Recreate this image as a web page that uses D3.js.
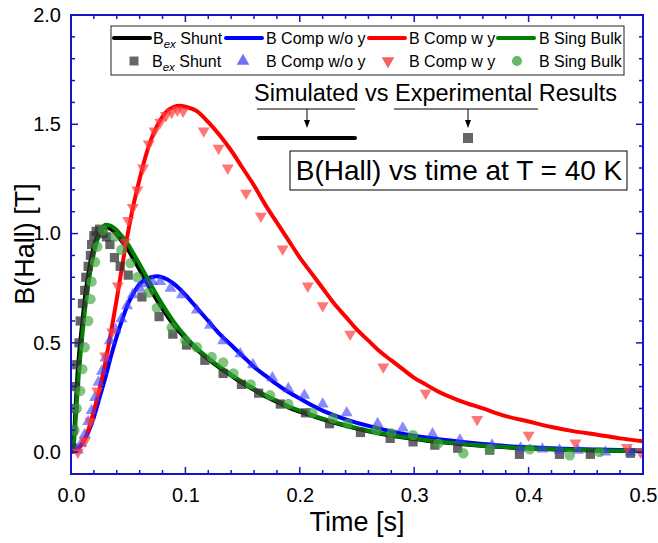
<!DOCTYPE html>
<html><head><meta charset="utf-8">
<script src="https://cdn.jsdelivr.net/npm/d3@7"></script>
<style>body{margin:0;background:#fff}text{font-family:"Liberation Sans",Arial,sans-serif}</style>
</head><body><svg id="c" width="658" height="543"></svg>
<script>
// ---- data: [time (s), B (T)] ----
const shuntSim = [[0,0],[0.002,0.03],[0.004,0.2],[0.006,0.38],[0.008,0.5],[0.01,0.6],[0.012,0.7],[0.015,0.81],[0.018,0.9],[0.021,0.96],[0.024,1.0],[0.027,1.025],[0.03,1.03],[0.035,1.02],[0.04,0.995],[0.045,0.96],[0.05,0.925],[0.055,0.88],[0.06,0.835],[0.07,0.74],[0.08,0.655],[0.09,0.58],[0.1,0.52],[0.11,0.47],[0.12,0.425],[0.13,0.385],[0.14,0.35],[0.15,0.315],[0.16,0.285],[0.17,0.255],[0.18,0.23],[0.19,0.205],[0.2,0.185],[0.22,0.15],[0.24,0.12],[0.26,0.095],[0.28,0.075],[0.3,0.06],[0.32,0.047],[0.34,0.037],[0.36,0.029],[0.38,0.022],[0.4,0.017],[0.43,0.011],[0.46,0.007],[0.5,0.004]];
const compNoYSim = [[0,0],[0.005,0.01],[0.01,0.04],[0.015,0.09],[0.02,0.16],[0.025,0.25],[0.03,0.34],[0.035,0.44],[0.04,0.53],[0.045,0.61],[0.05,0.68],[0.055,0.73],[0.06,0.77],[0.065,0.79],[0.07,0.8],[0.075,0.805],[0.08,0.8],[0.09,0.77],[0.1,0.72],[0.11,0.66],[0.12,0.6],[0.13,0.54],[0.14,0.49],[0.15,0.44],[0.16,0.39],[0.17,0.35],[0.18,0.31],[0.19,0.275],[0.2,0.245],[0.22,0.19],[0.24,0.15],[0.26,0.12],[0.28,0.095],[0.3,0.075],[0.32,0.06],[0.34,0.048],[0.36,0.037],[0.38,0.028],[0.4,0.022],[0.43,0.016],[0.46,0.012],[0.5,0.008]];
const compYSim = [[0,0],[0.005,0.01],[0.01,0.04],[0.015,0.1],[0.02,0.19],[0.025,0.29],[0.03,0.41],[0.035,0.55],[0.04,0.7],[0.045,0.86],[0.05,1.01],[0.055,1.14],[0.06,1.25],[0.065,1.35],[0.07,1.43],[0.075,1.49],[0.08,1.535],[0.085,1.565],[0.09,1.58],[0.095,1.585],[0.1,1.58],[0.11,1.56],[0.12,1.51],[0.13,1.45],[0.14,1.38],[0.15,1.3],[0.16,1.22],[0.17,1.13],[0.18,1.05],[0.19,0.97],[0.2,0.89],[0.21,0.82],[0.22,0.75],[0.23,0.68],[0.24,0.62],[0.25,0.56],[0.26,0.51],[0.27,0.46],[0.28,0.42],[0.29,0.38],[0.3,0.34],[0.31,0.31],[0.32,0.28],[0.34,0.235],[0.36,0.2],[0.38,0.165],[0.4,0.14],[0.42,0.115],[0.44,0.095],[0.46,0.08],[0.48,0.063],[0.5,0.05]];
const singBulkSim = [[0,0],[0.002,0.02],[0.004,0.14],[0.006,0.3],[0.008,0.43],[0.01,0.54],[0.012,0.64],[0.015,0.76],[0.018,0.86],[0.021,0.93],[0.024,0.985],[0.027,1.02],[0.03,1.04],[0.035,1.035],[0.04,1.015],[0.045,0.985],[0.05,0.95],[0.055,0.905],[0.06,0.86],[0.07,0.765],[0.08,0.675],[0.09,0.595],[0.1,0.53],[0.11,0.475],[0.12,0.43],[0.13,0.39],[0.14,0.355],[0.15,0.32],[0.16,0.29],[0.17,0.26],[0.18,0.235],[0.19,0.21],[0.2,0.19],[0.22,0.153],[0.24,0.123],[0.26,0.098],[0.28,0.078],[0.3,0.062],[0.32,0.049],[0.34,0.039],[0.36,0.03],[0.38,0.023],[0.4,0.018],[0.43,0.012],[0.46,0.008],[0.5,0.005]];

const shuntExp = [[0.001,0.02],[0.002,0.1],[0.003,0.2],[0.004,0.3],[0.005,0.4],[0.007,0.5],[0.008,0.6],[0.01,0.68],[0.012,0.74],[0.013,0.8],[0.015,0.85],[0.017,0.9],[0.018,0.95],[0.02,0.99],[0.022,1.01],[0.025,1.02],[0.028,1.0],[0.031,0.985],[0.034,0.95],[0.038,0.89],[0.043,0.85],[0.05,0.81],[0.062,0.71],[0.077,0.62],[0.089,0.54],[0.101,0.49],[0.117,0.42],[0.133,0.36],[0.149,0.31],[0.164,0.27],[0.183,0.22],[0.205,0.18],[0.226,0.13],[0.253,0.09],[0.279,0.063],[0.299,0.047],[0.318,0.032],[0.338,0.018],[0.366,0.009],[0.392,-0.01],[0.427,-0.01],[0.454,-0.01],[0.489,-0.005]];
const compNoYExp = [[0.006,0.01],[0.009,0.04],[0.012,0.08],[0.015,0.14],[0.018,0.19],[0.021,0.25],[0.024,0.32],[0.027,0.37],[0.03,0.43],[0.034,0.51],[0.039,0.56],[0.044,0.61],[0.049,0.67],[0.054,0.72],[0.06,0.75],[0.065,0.77],[0.071,0.78],[0.078,0.78],[0.087,0.75],[0.097,0.72],[0.11,0.65],[0.1215,0.58],[0.133,0.51],[0.148,0.45],[0.159,0.4],[0.176,0.34],[0.19,0.29],[0.204,0.26],[0.22,0.22],[0.241,0.18],[0.268,0.13],[0.29,0.11],[0.316,0.083],[0.34,0.055],[0.368,0.032],[0.393,0.018],[0.412,0.014],[0.427,0.009],[0.443,0.009],[0.467,0.0],[0.489,0.0]];
const compYExp = [[0.006,0.0],[0.012,0.05],[0.017,0.14],[0.023,0.28],[0.03,0.44],[0.036,0.55],[0.041,0.76],[0.047,0.96],[0.05,1.06],[0.054,1.12],[0.058,1.2],[0.063,1.3],[0.068,1.41],[0.073,1.47],[0.078,1.51],[0.083,1.54],[0.088,1.555],[0.093,1.565],[0.098,1.56],[0.116,1.47],[0.129,1.39],[0.137,1.3],[0.153,1.185],[0.166,1.08],[0.185,0.93],[0.207,0.76],[0.22,0.67],[0.244,0.54],[0.273,0.39],[0.31,0.27],[0.355,0.15],[0.4,0.078],[0.441,0.042],[0.486,0.022],[0.498,0.0]];
const singBulkExp = [[0.003,0.1],[0.005,0.2],[0.008,0.28],[0.01,0.38],[0.012,0.48],[0.015,0.6],[0.017,0.7],[0.018,0.78],[0.021,0.87],[0.023,0.94],[0.028,1.015],[0.038,0.985],[0.044,0.925],[0.052,0.865],[0.058,0.8],[0.068,0.73],[0.075,0.66],[0.088,0.57],[0.1,0.51],[0.11,0.48],[0.123,0.435],[0.133,0.41],[0.142,0.36],[0.157,0.31],[0.174,0.26],[0.19,0.22],[0.211,0.18],[0.229,0.155],[0.242,0.13],[0.267,0.1],[0.28,0.087],[0.299,0.078],[0.321,0.04],[0.343,-0.005],[0.366,0.013],[0.401,0.013],[0.436,-0.014],[0.462,0.0]];

const xTicks = [0.0, 0.1, 0.2, 0.3, 0.4, 0.5];
const yTicks = [0.0, 0.5, 1.0, 1.5, 2.0];
const legendNames = ["Shunt", "B Comp w/o y", "B Comp w y", "B Sing Bulk"];

// ---- layout ----
const svg = d3.select("#c");
const L = 71, R = 643, T = 15, B = 474;
const x = d3.scaleLinear().domain([0, 0.5]).range([L, R]);
const y = d3.scaleLinear().domain([-0.1, 2.0]).range([B, T]);
const axisCol = "#1414c8";

svg.append("clipPath").attr("id","clip").append("rect").attr("x",L).attr("y",T).attr("width",R-L).attr("height",B-T);

const plot = svg.append("g").attr("clip-path","url(#clip)");
const line = d3.line().x(d=>x(d[0])).y(d=>y(d[1])).curve(d3.curveMonotoneX);

const lineSeries = [[shuntSim,"#000000"],[compNoYSim,"#0000ff"],[compYSim,"#ff0000"],[singBulkSim,"#008000"]];
lineSeries.forEach(([d,c])=>{
  plot.append("path").datum(d).attr("d",line).attr("fill","none").attr("stroke",c).attr("stroke-width",4).attr("stroke-linejoin","round").attr("stroke-linecap","round");
});

const sq = d3.symbol().type(d3.symbolSquare).size(85);
const triUp = d3.symbol().type(d3.symbolTriangle).size(62);
const circ = d3.symbol().type(d3.symbolCircle).size(85);
function markers(data, sym, fill, rot){
  plot.append("g").selectAll("path").data(data).join("path")
    .attr("d", sym).attr("fill", fill)
    .attr("transform", d=>`translate(${x(d[0])},${y(d[1])})${rot?" rotate(180)":""}`);
}
markers(shuntExp, sq, "rgba(50,50,50,0.75)");
markers(compNoYExp, triUp, "rgba(60,60,255,0.6)");
markers(compYExp, triUp, "rgba(255,60,60,0.7)", true);
markers(singBulkExp, circ, "rgba(60,165,60,0.65)");

// ---- axes frame ----
const ax = svg.append("g");
function tickLines(vals, len, orient){
  vals.forEach(v=>{
    if(orient==="b"){ax.append("line").attr("x1",x(v)).attr("x2",x(v)).attr("y1",B).attr("y2",B-len);}
    if(orient==="t"){ax.append("line").attr("x1",x(v)).attr("x2",x(v)).attr("y1",T).attr("y2",T+len);}
    if(orient==="l"){ax.append("line").attr("y1",y(v)).attr("y2",y(v)).attr("x1",L).attr("x2",L+len);}
    if(orient==="r"){ax.append("line").attr("y1",y(v)).attr("y2",y(v)).attr("x1",R).attr("x2",R-len);}
  });
}
const xMinor = d3.range(0, 0.5001, 0.02).filter(v=>Math.abs(v*10-Math.round(v*10))>1e-6);
const yMinor = d3.range(0, 2.0001, 0.1).filter(v=>Math.abs(v*2-Math.round(v*2))>1e-6);
tickLines(xTicks,7,"b"); tickLines(xTicks,7,"t");
tickLines(xMinor,4,"b"); tickLines(xMinor,4,"t");
tickLines(yTicks,7,"l"); tickLines(yTicks,7,"r");
tickLines(yMinor,4,"l"); tickLines(yMinor,4,"r");
ax.selectAll("line").attr("stroke",axisCol).attr("stroke-width",1.5);
ax.append("rect").attr("x",L).attr("y",T).attr("width",R-L).attr("height",B-T).attr("fill","none").attr("stroke",axisCol).attr("stroke-width",2);

// tick labels via d3 scales
const xa = svg.append("g").attr("transform",`translate(0,${B})`)
  .call(d3.axisBottom(x).tickValues(xTicks).tickFormat(d3.format(".1f")).tickSize(0).tickPadding(14));
xa.select(".domain").remove();
xa.selectAll("text").attr("font-size",20).attr("fill","#000").attr("font-family","Liberation Sans, Arial");
const ya = svg.append("g").attr("transform",`translate(${L},0)`)
  .call(d3.axisLeft(y).tickValues(yTicks).tickFormat(d3.format(".1f")).tickSize(0).tickPadding(10));
ya.select(".domain").remove();
ya.selectAll("text").attr("font-size",20).attr("fill","#000").attr("font-family","Liberation Sans, Arial");

svg.append("text").attr("x",357).attr("y",531).attr("text-anchor","middle").attr("font-size",27).text("Time [s]");
svg.append("text").attr("transform","translate(34,244) rotate(-90)").attr("text-anchor","middle").attr("font-size",27).text("B(Hall) [T]");

// ---- legend ----
const lg = svg.append("g");
lg.append("rect").attr("x",111).attr("y",26).attr("width",513).attr("height",49).attr("fill","#fff").attr("stroke","#222").attr("stroke-width",1);
const lineCols = ["#000","#0000ff","#ff0000","#008000"];
const lineX = [112, 224, 367, 496];
const textX = [153, 266, 409, 539];
const row1 = 38, row2 = 61;
function legText(tx, ty, i){
  const t = lg.append("text").attr("x",tx).attr("y",ty+6).attr("font-size",16);
  if(i===0){ t.append("tspan").text("B"); t.append("tspan").attr("font-size",11.5).attr("font-style","italic").attr("dy",4).text("ex"); t.append("tspan").attr("dy",-4).text(" "+legendNames[0]); }
  else t.text(legendNames[i]);
}
lineCols.forEach((c,i)=>{
  lg.append("line").attr("x1",lineX[i]+2).attr("x2",lineX[i]+38).attr("y1",row1).attr("y2",row1).attr("stroke",c).attr("stroke-width",4).attr("stroke-linecap","round");
  legText(textX[i], row1, i);
});
const mkX = [134, 243, 388, 517];
lg.append("path").attr("d",d3.symbol().type(d3.symbolSquare).size(80)()).attr("fill","#666").attr("transform",`translate(${mkX[0]},${row2})`);
lg.append("path").attr("d",d3.symbol().type(d3.symbolTriangle).size(70)()).attr("fill","#6f6ff2").attr("transform",`translate(${mkX[1]},${row2})`);
lg.append("path").attr("d",d3.symbol().type(d3.symbolTriangle).size(70)()).attr("fill","#f26060").attr("transform",`translate(${mkX[2]},${row2}) rotate(180)`);
lg.append("path").attr("d",d3.symbol().type(d3.symbolCircle).size(80)()).attr("fill","#66b866").attr("transform",`translate(${mkX[3]},${row2})`);
[152,266,409,539].forEach((tx,i)=>legText(tx,row2,i));

// ---- annotations ----
const an = svg.append("g");
an.append("text").attr("x",254).attr("y",101).attr("font-size",23.5).text("Simulated vs Experimental Results");
an.append("line").attr("x1",257).attr("x2",355).attr("y1",109).attr("y2",109).attr("stroke","#000").attr("stroke-width",1);
an.append("line").attr("x1",394).attr("x2",538).attr("y1",109).attr("y2",109).attr("stroke","#000").attr("stroke-width",1);
[307,468].forEach(ax0=>{
  an.append("line").attr("x1",ax0).attr("x2",ax0).attr("y1",109).attr("y2",124).attr("stroke","#000").attr("stroke-width",1);
  an.append("path").attr("d",`M${ax0-3},120 L${ax0+3},120 L${ax0},128 Z`).attr("fill","#000");
});
an.append("line").attr("x1",259).attr("x2",355).attr("y1",138).attr("y2",138).attr("stroke","#000").attr("stroke-width",4).attr("stroke-linecap","round");
an.append("rect").attr("x",463).attr("y",133).attr("width",10).attr("height",10).attr("fill","#666");
an.append("rect").attr("x",290).attr("y",151).attr("width",337).attr("height",39).attr("fill","#fff").attr("stroke","#000").attr("stroke-width",1);
an.append("text").attr("x",459).attr("y",180).attr("text-anchor","middle").attr("font-size",28).text("B(Hall) vs time at T = 40 K");
</script></body></html>
